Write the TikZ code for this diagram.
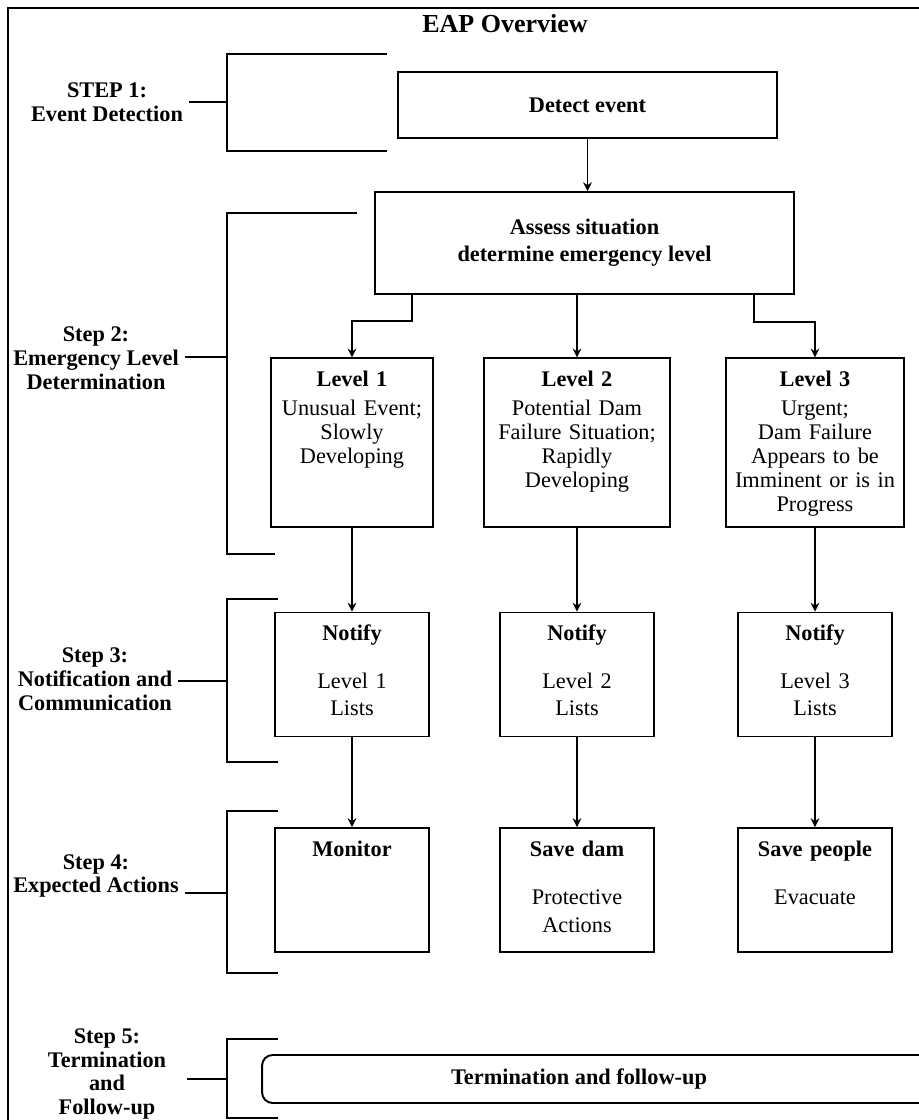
\documentclass[tikz,border=0pt]{standalone}
\usepackage{fontspec}
\setmainfont{Liberation Serif}
\usepackage{tikz}
\usetikzlibrary{arrows.meta}
\tikzset{c-box/.style={rectangle, draw=black, line width=1.1pt, fill=white, inner sep=4pt, text centered, align=center, font=\fontsize{12.7pt}{13.6pt}\selectfont},
c-level/.style={c-box, text height=12pt, text depth=75.8pt},
c-small/.style={c-box, text width=79.9pt, text height=12pt, text depth=50.6pt},
c-step/.style={align=center, font=\fontsize{12.7pt}{13.6pt}\selectfont\bfseries},
c-bracket/.style={line width=1.1pt},
arrow/.style={line width=0.8pt,->,>={Stealth[length=5pt,width=5pt]}}}

\begin{document}
\begin{tikzpicture}[x=0.02cm, y=-0.02cm]
\useasboundingbox (0,0) rectangle (919,1120);
\draw [line width=1.7pt] (8,1130) -- (8,8) -- (930,8);
\node (title) at (505,24) [font=\fontsize{14.8pt}{16pt}\selectfont\bfseries] {EAP Overview};

% boxes
\node (detect) at (587.5,105) [c-box, minimum width=7.58cm, minimum height=1.32cm, font=\fontsize{12.7pt}{13.6pt}\selectfont\bfseries] {Detect event};
\node (assess) at (584.5,243) [c-box, minimum width=8.38cm, minimum height=2.04cm, font=\fontsize{12.7pt}{15.3pt}\selectfont\bfseries] {Assess situation\\determine emergency level};
\node (lev1) at (352,442.5) [c-level, text width=84.4pt] {\textbf{Level 1}\\[3pt] Unusual Event;\\ Slowly\\ Developing};
\node (lev2) at (577,442.5) [c-level, text width=98pt] {\textbf{Level 2}\\[3pt] Potential Dam\\ Failure Situation;\\ Rapidly\\ Developing};
\node (lev3) at (815,442.5) [c-level, text width=92.9pt] {\textbf{Level 3}\\[3pt] Urgent;\\ Dam Failure\\ Appears to be\\ Imminent or is in\\ Progress};
\node (note1) at (352,674.5) [c-small] {\textbf{Notify}\\[13.6pt] Level 1\\[1.7pt] Lists};
\node (note2) at (577,674.5) [c-small] {\textbf{Notify}\\[13.6pt] Level 2\\[1.7pt] Lists};
\node (note3) at (815,674.5) [c-small] {\textbf{Notify}\\[13.6pt] Level 3\\[1.7pt] Lists};
\node (act1) at (352,890) [c-small] {\textbf{Monitor}};
\node (act2) at (577,890) [c-small] {\textbf{Save dam}\\[14pt] Protective\\[2.3pt] Actions};
\node (act3) at (815,890) [c-small] {\textbf{Save people}\\[14pt] Evacuate};
\node (term) at (601,1079) [c-box, rounded corners=6pt, minimum width=13.56cm, minimum height=0.96cm] {};
\node (termtext) at (579,1079) [font=\fontsize{12.7pt}{13.6pt}\selectfont\bfseries] {Termination and follow-up};

\draw [arrow] (detect.south) -- (detect.south |- assess.north);
\draw [arrow] ([xshift=0.76cm]assess.south west) -- ++(0,26) -| (lev1.north);
\draw [arrow] (assess.south -| lev2.north) -- (lev2.north);
\draw [arrow] ([xshift=-0.82cm]assess.south east) -- ++(0,27) -| (lev3.north);
\draw [arrow] (lev1) -- (note1);
\draw [arrow] (lev2) -- (note2);
\draw [arrow] (lev3) -- (note3);
\draw [arrow] (note1) -- (act1);
\draw [arrow] (note2) -- (act2);
\draw [arrow] (note3) -- (act3);

% steps
\node (s1) at (107,102) [c-step] {STEP 1:\\Event Detection};
\node (s2) at (96,358) [c-step] {Step 2:\\Emergency Level\\Determination};
\node (s3) at (95,679) [c-step] {Step 3:\\Notification and\\Communication};
\node (s4) at (96,876) [c-step] {Step 4:\\Expected Actions};
\node (s5) at (107,1074) [c-step] {Step 5:\\Termination\\and\\Follow-up};
\coordinate (t1) at (227,102);
\coordinate (t2) at (227,357);
\coordinate (t3) at (227,681);
\coordinate (t4) at (227,893);
\coordinate (t5) at (227,1079);
\draw [c-bracket] (387,54) -| (227,151) -- (387,151);
\draw [c-bracket] (357,213) -| (227,554) -- (275,554);
\draw [c-bracket] (278,599) -| (227,762) -- (278,762);
\draw [c-bracket] (278,811) -| (227,973) -- (278,973);
\draw [c-bracket] (278,1039) -| (227,1118) -- (278,1118);
\draw [c-bracket] (s1.east |- t1) -- (t1);
\draw [c-bracket] (s2.east |- t2) -- (t2);
\draw [c-bracket] (s3.east |- t3) -- (t3);
\draw [c-bracket] (s4.east |- t4) -- (t4);
\draw [c-bracket] (s5.east |- t5) ++(15,0) -- (t5);
\end{tikzpicture}
\end{document}
